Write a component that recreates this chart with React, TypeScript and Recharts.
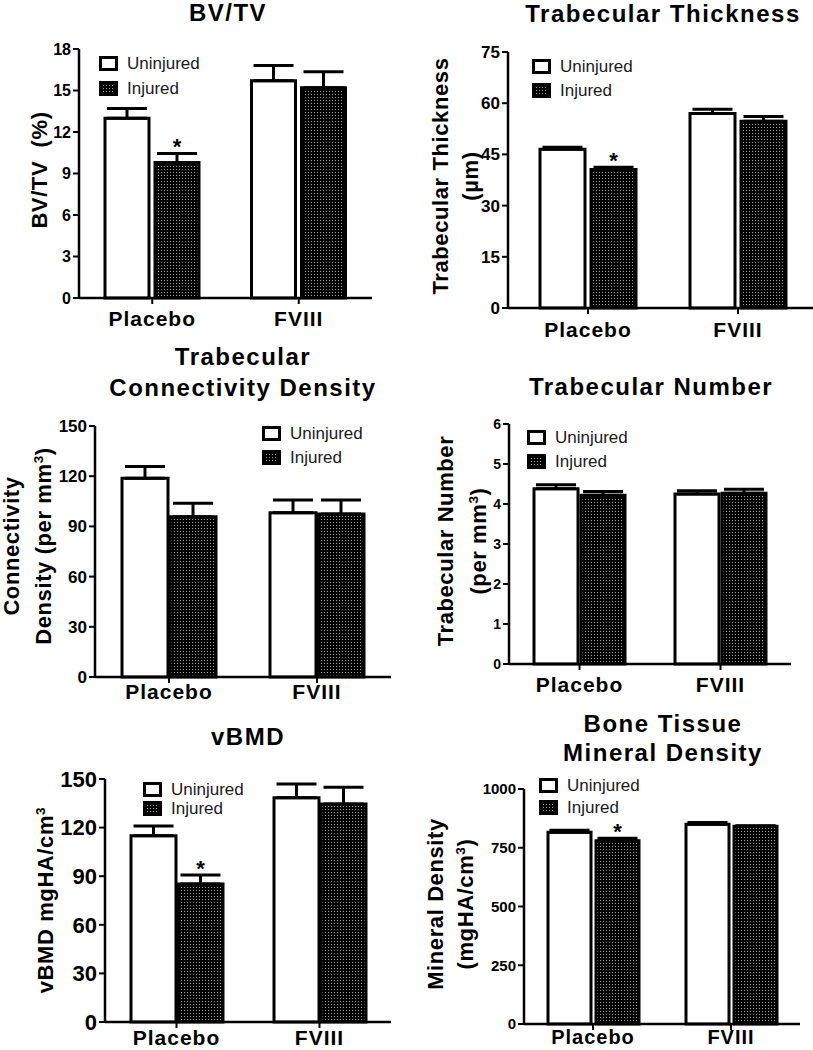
import React from "react"
import { Bar, BarChart, ErrorBar, LabelList, XAxis, YAxis } from "recharts"

const FONT = "'Liberation Sans', Arial, Helvetica, sans-serif"

const groups = ["Placebo", "FVIII"]

// BV/TV (%)
const bvtvUninjured = [13.0, 15.7]
const bvtvUninjuredSem = [0.7, 1.1]
const bvtvInjured = [9.8, 15.2]
const bvtvInjuredSem = [0.65, 1.15]
const bvtvSig = [true, false]
const bvtvTicks = [0, 3, 6, 9, 12, 15, 18]

// Trabecular thickness (µm)
const thkUninjured = [46.5, 57.0]
const thkUninjuredSem = [0.6, 1.2]
const thkInjured = [40.6, 54.7]
const thkInjuredSem = [0.6, 1.4]
const thkSig = [true, false]
const thkTicks = [0, 15, 30, 45, 60, 75]

// Connectivity density (per mm3)
const connUninjured = [118.8, 98.2]
const connUninjuredSem = [7, 7.6]
const connInjured = [95.8, 97.4]
const connInjuredSem = [8, 8.4]
const connSig = [false, false]
const connTicks = [0, 30, 60, 90, 120, 150]

// Trabecular number (per mm3)
const numUninjured = [4.38, 4.25]
const numUninjuredSem = [0.1, 0.08]
const numInjured = [4.22, 4.27]
const numInjuredSem = [0.09, 0.1]
const numSig = [false, false]
const numTicks = [0, 1, 2, 3, 4, 5, 6]

// vBMD (mgHA/cm3)
const vbmdUninjured = [115, 138.5]
const vbmdUninjuredSem = [6, 8.4]
const vbmdInjured = [85.2, 134.6]
const vbmdInjuredSem = [5.5, 10.3]
const vbmdSig = [true, false]
const vbmdTicks = [0, 30, 60, 90, 120, 150]

// Tissue mineral density (mgHA/cm3)
const tmdUninjured = [816, 850]
const tmdUninjuredSem = [9, 7]
const tmdInjured = [780, 842]
const tmdInjuredSem = [10, 2]
const tmdSig = [true, false]
const tmdTicks = [0, 250, 500, 750, 1000]

type Row = {
  group: string
  uninjured: number
  uninjuredErr: number[]
  injured: number
  injuredErr: number[]
  sig: boolean
}

function makeRows(u: number[], ue: number[], j: number[], je: number[], sig: boolean[]): Row[] {
  return groups.map((g, i) => ({
    group: g,
    uninjured: u[i],
    uninjuredErr: [0, ue[i]],
    injured: j[i],
    injuredErr: [0, je[i]],
    sig: sig[i],
  }))
}

type PanelCfg = {
  rows: Row[]
  ticks: number[]
  x0: number
  x1: number
  yTop: number
  yBot: number
  padLeft: number
  barSize: number
  barGap: number
  tickFont: number
  xFont: number
  xMargin: number
  title: { lines: string[]; x: number; y: number; gap: number }
  yLabel: { lines: React.ReactNode[]; x: number; y: number; size: number; gap: number }
  legend: { x: number; y: number; step: number }
}

const sup = (t: string) => <sup style={{ fontSize: "0.62em", lineHeight: 0 }}>{t}</sup>

const panels: PanelCfg[] = [
  {
    rows: makeRows(bvtvUninjured, bvtvUninjuredSem, bvtvInjured, bvtvInjuredSem, bvtvSig),
    ticks: bvtvTicks,
    x0: 79, x1: 372, yTop: 49, yBot: 298, padLeft: 0,
    barSize: 44, barGap: 6, tickFont: 16, xFont: 21, xMargin: 7,
    title: { lines: ["BV/TV"], x: 228, y: 13, gap: 28 },
    yLabel: { lines: ["BV/TV  (%)"], x: 40, y: 170, size: 22, gap: 26 },
    legend: { x: 99, y: 63, step: 25 },
  },
  {
    rows: makeRows(thkUninjured, thkUninjuredSem, thkInjured, thkInjuredSem, thkSig),
    ticks: thkTicks,
    x0: 508, x1: 813, yTop: 52, yBot: 308, padLeft: 5,
    barSize: 45, barGap: 6, tickFont: 17, xFont: 21, xMargin: 8,
    title: { lines: ["Trabecular Thickness"], x: 663, y: 14, gap: 28 },
    yLabel: { lines: ["Trabecular Thickness", "(µm)"], x: 456, y: 176, size: 22, gap: 30 },
    legend: { x: 532, y: 66, step: 24 },
  },
  {
    rows: makeRows(connUninjured, connUninjuredSem, connInjured, connInjuredSem, connSig),
    ticks: connTicks,
    x0: 95, x1: 391, yTop: 426, yBot: 677, padLeft: 0,
    barSize: 46, barGap: 2, tickFont: 17, xFont: 21, xMargin: 1,
    title: { lines: ["Trabecular", "Connectivity Density"], x: 243, y: 356, gap: 31 },
    yLabel: { lines: ["Connectivity", <>Density (per mm{sup("3")})</>], x: 28, y: 546, size: 22, gap: 32 },
    legend: { x: 262, y: 433, step: 24 },
  },
  {
    rows: makeRows(numUninjured, numUninjuredSem, numInjured, numInjuredSem, numSig),
    ticks: numTicks,
    x0: 509, x1: 791, yTop: 424, yBot: 664, padLeft: 0,
    barSize: 44, barGap: 3, tickFont: 14, xFont: 21, xMargin: 7,
    title: { lines: ["Trabecular Number"], x: 651, y: 387, gap: 28 },
    yLabel: { lines: ["Trabecular Number", <>(per mm{sup("3")})</>], x: 462, y: 541, size: 22, gap: 33 },
    legend: { x: 527, y: 437, step: 24 },
  },
  {
    rows: makeRows(vbmdUninjured, vbmdUninjuredSem, vbmdInjured, vbmdInjuredSem, vbmdSig),
    ticks: vbmdTicks,
    x0: 105, x1: 391, yTop: 779, yBot: 1022, padLeft: 0,
    barSize: 45, barGap: 2, tickFont: 22, xFont: 21, xMargin: 2,
    title: { lines: ["vBMD"], x: 248, y: 737, gap: 28 },
    yLabel: { lines: [<>vBMD mgHA/cm{sup("3")}</>], x: 46, y: 900, size: 22, gap: 28 },
    legend: { x: 143, y: 789, step: 19 },
  },
  {
    rows: makeRows(tmdUninjured, tmdUninjuredSem, tmdInjured, tmdInjuredSem, tmdSig),
    ticks: tmdTicks,
    x0: 524, x1: 800, yTop: 789, yBot: 1024, padLeft: 0,
    barSize: 43, barGap: 5, tickFont: 15, xFont: 20, xMargin: 0,
    title: { lines: ["Bone Tissue", "Mineral Density"], x: 663, y: 723, gap: 29 },
    yLabel: { lines: ["Mineral Density", <>(mgHA/cm{sup("3")})</>], x: 451, y: 904, size: 22, gap: 30 },
    legend: { x: 539, y: 785, step: 22 },
  },
]

const Y_W = 60
const X_H = 40
const TOP_PAD = 16

function starLabel(rows: Row[]) {
  return (props: any) => {
    const idx = props.index
    const row = rows[idx]
    if (!row || !row.sig) return null
    const vb = props.viewBox || {}
    const x = props.x ?? vb.x
    const y = props.y ?? vb.y
    const w = props.width ?? vb.width
    const h = props.height ?? vb.height
    const capY = y - (row.injuredErr[1] * h) / row.injured
    return (
      <text x={x + w / 2} y={capY + 1} textAnchor="middle" fontSize={22} fontWeight={700} fontFamily={FONT} fill="#000">
        *
      </text>
    )
  }
}

function Swatch({ dotted }: { dotted: boolean }) {
  return (
    <svg width={19} height={15} style={{ display: "block" }}>
      <rect x={1.5} y={1.5} width={16} height={12} fill={dotted ? "url(#dots)" : "#fff"} stroke="#000" strokeWidth={3} />
    </svg>
  )
}

function Panel({ cfg }: { cfg: PanelCfg }) {
  const left = cfg.x0 - Y_W
  const top = cfg.yTop - TOP_PAD
  const width = cfg.x1 - left
  const height = cfg.yBot - cfg.yTop + TOP_PAD + X_H
  const max = cfg.ticks[cfg.ticks.length - 1]
  const tickStyle = { fill: "#000", fontSize: cfg.tickFont, fontWeight: 700, fontFamily: FONT }

  return (
    <>
      <div style={{ position: "absolute", left, top }}>
        <BarChart
          width={width}
          height={height}
          data={cfg.rows}
          margin={{ top: TOP_PAD, right: 0, bottom: 0, left: 0 }}
          barGap={cfg.barGap}
        >
          <XAxis
            dataKey="group"
            height={X_H}
            interval={0}
            padding={{ left: cfg.padLeft, right: 0 }}
            axisLine={{ stroke: "#000", strokeWidth: 2.5 }}
            tickLine={{ stroke: "#000", strokeWidth: 2 }}
            tickSize={6}
            tickMargin={cfg.xMargin}
            tick={{ fill: "#000", fontSize: cfg.xFont, fontWeight: 700, fontFamily: FONT, letterSpacing: 1 }}
          />
          <YAxis
            width={Y_W}
            domain={[0, max]}
            ticks={cfg.ticks}
            interval={0}
            axisLine={{ stroke: "#000", strokeWidth: 2.5 }}
            tickLine={{ stroke: "#000", strokeWidth: 2 }}
            tickSize={6}
            tickMargin={2}
            tick={tickStyle}
          />
          <Bar dataKey="uninjured" barSize={cfg.barSize} fill="#fff" stroke="#000" strokeWidth={3} isAnimationActive={false}>
            <ErrorBar dataKey="uninjuredErr" width={20} strokeWidth={3} stroke="#000" direction="y" />
          </Bar>
          <Bar dataKey="injured" barSize={cfg.barSize} fill="url(#dots)" stroke="#000" strokeWidth={3} isAnimationActive={false}>
            <ErrorBar dataKey="injuredErr" width={20} strokeWidth={3} stroke="#000" direction="y" />
            <LabelList dataKey="injured" content={starLabel(cfg.rows)} />
          </Bar>
        </BarChart>
      </div>

      <div
        style={{
          position: "absolute",
          left: cfg.title.x,
          top: cfg.title.y - cfg.title.gap / 2,
          transform: "translateX(-50%)",
          lineHeight: `${cfg.title.gap}px`,
          fontSize: 24,
          fontWeight: 700,
          letterSpacing: 1.5,
          textAlign: "center",
          whiteSpace: "nowrap",
        }}
      >
        {cfg.title.lines.map((l, i) => (
          <div key={i}>{l}</div>
        ))}
      </div>

      <div
        style={{
          position: "absolute",
          left: cfg.yLabel.x,
          top: cfg.yLabel.y,
          transform: "translate(-50%, -50%) rotate(-90deg)",
          lineHeight: `${cfg.yLabel.gap}px`,
          fontSize: cfg.yLabel.size,
          fontWeight: 700,
          letterSpacing: 0.6,
          textAlign: "center",
          whiteSpace: "pre",
        }}
      >
        {cfg.yLabel.lines.map((l, i) => (
          <div key={i}>{l}</div>
        ))}
      </div>

      <div style={{ position: "absolute", left: cfg.legend.x, top: cfg.legend.y - cfg.legend.step / 2 }}>
        {[
          { name: "Uninjured", dotted: false },
          { name: "Injured", dotted: true },
        ].map((it) => (
          <div key={it.name} style={{ display: "flex", alignItems: "center", height: cfg.legend.step }}>
            <Swatch dotted={it.dotted} />
            <span style={{ marginLeft: 9, fontSize: 17, color: "#1a1a1a", lineHeight: 1 }}>{it.name}</span>
          </div>
        ))}
      </div>
    </>
  )
}

export default function App() {
  return (
    <div
      style={{
        position: "absolute",
        left: 0,
        top: 0,
        width: 813,
        height: 1050,
        background: "#fff",
        fontFamily: FONT,
        color: "#000",
        overflow: "hidden",
      }}
    >
      <svg width={0} height={0} style={{ position: "absolute" }}>
        <defs>
          <pattern id="dots" width={3} height={3} patternUnits="userSpaceOnUse">
            <rect width={3} height={3} fill="#000" />
            <rect x={1} y={1} width={1} height={1} fill="#9a9a9a" />
          </pattern>
        </defs>
      </svg>
      {panels.map((p, i) => (
        <Panel key={i} cfg={p} />
      ))}
    </div>
  )
}
